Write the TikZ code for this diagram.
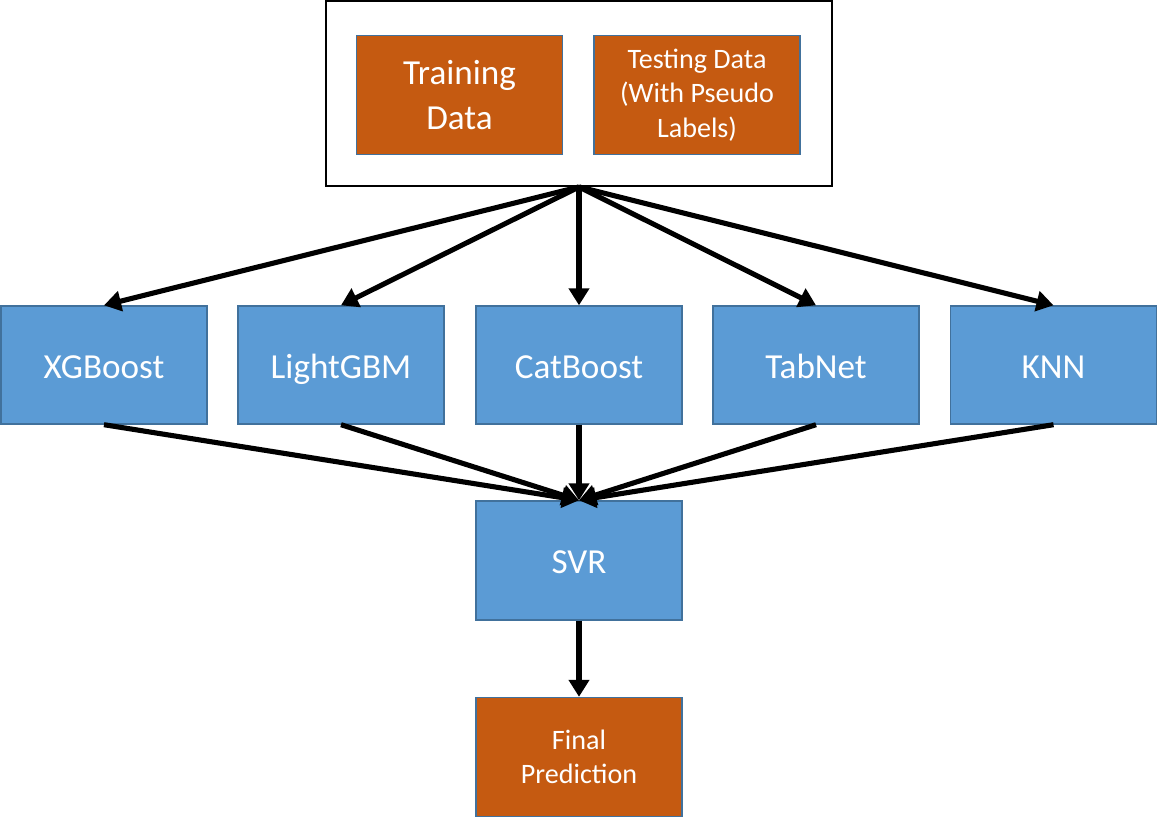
\documentclass[tikz,border=0pt]{standalone}
\usepackage{fontspec}
\setmainfont{Carlito}
\usetikzlibrary{arrows.meta}

\definecolor{dataorange}{HTML}{C55A11}
\definecolor{modelblue}{HTML}{5B9BD5}
\definecolor{edgeblue}{HTML}{41719C}

\tikzset{
  databox/.style={draw=edgeblue, line width=0.8pt, fill=dataorange, text=white,
    minimum width=4.12cm, minimum height=2.38cm, inner sep=0pt, align=center},
  modelbox/.style={draw=edgeblue, line width=0.8pt, fill=modelblue, text=white,
    minimum width=4.12cm, minimum height=2.36cm, inner sep=0pt, align=center,
    text height=18pt, text depth=3pt, font=\fontsize{20}{24}\selectfont},
  flow/.style={line width=2.9pt, -{Triangle[length=0.34cm,width=0.4cm]}}
}

\begin{document}
\begin{tikzpicture}[x=0.02cm,y=-0.02cm]
\useasboundingbox (0,0) rectangle (1158,817);
% input data
\node[draw=black, line width=1.1pt, minimum width=10.12cm, minimum height=3.7cm] (input) at (579,93.5) {};
\node[databox, font=\fontsize{20}{26}\selectfont] (train) at (459.5,95) {Training\\Data};
\node[databox, font=\fontsize{16}{19.5}\selectfont] (test) at (697,95) {Testing Data\\(With Pseudo\\Labels)};

% base models
\node[modelbox] (xgb) at (104,365) {XGBoost};
\node[modelbox] (lgbm) at (341,365) {LightGBM};
\node[modelbox] (cat) at (579,365) {CatBoost};
\node[modelbox] (tab) at (816,365) {TabNet};
\node[modelbox] (knn) at (1053.5,365) {KNN};

% meta model and output
\node[modelbox, minimum height=2.38cm] (svr) at (579,560.5) {SVR};
\node[databox, font=\fontsize{16}{19.5}\selectfont] (final) at (579,757) {Final\\Prediction};

\foreach \m in {xgb,lgbm,cat,tab,knn}
  \draw[flow] (input.south) -- (\m.north);
\foreach \m in {xgb,lgbm,cat,tab,knn}
  \draw[flow] (\m.south) -- (svr.north);
\draw[flow] (svr.south) -- (final.north);
\end{tikzpicture}
\end{document}
